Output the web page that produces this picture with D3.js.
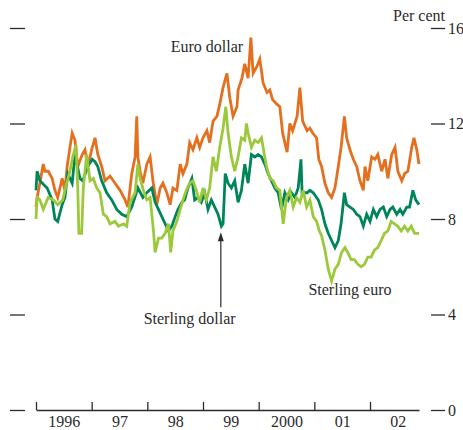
<!DOCTYPE html>
<html>
<head>
<meta charset="utf-8">
<script src="https://cdn.jsdelivr.net/npm/d3@7"></script>
<style>
  body { margin: 0; background: #fff; }
  svg { display: block; font-family: "Liberation Serif", "DejaVu Serif", serif; }
</style>
</head>
<body>
<svg id="vol_svg" width="463" height="430"></svg>
<script>

// time is in decimal years, values are per cent
var yearTicks = [1996, 1997, 1998, 1999, 2000, 2001, 2002];
var yearLabels = ["1996", "97", "98", "99", "2000", "01", "02"];
var valueTicks = [0, 4, 8, 12, 16];

var euroDollar = [
  [1996.00, 8.5], [1996.02, 8.9], [1996.07, 9.5], [1996.13, 10.3], [1996.16, 10.0], [1996.22, 10.0],
  [1996.29, 9.7], [1996.34, 9.2], [1996.39, 8.9], [1996.47, 9.7], [1996.52, 9.2], [1996.56, 10.2],
  [1996.61, 11.0], [1996.65, 11.6], [1996.70, 11.3], [1996.75, 10.2], [1996.83, 10.7], [1996.88, 10.9],
  [1996.93, 10.2], [1997.01, 11.0], [1997.06, 11.4], [1997.11, 10.7], [1997.18, 10.2], [1997.24, 9.6],
  [1997.33, 9.8], [1997.42, 9.5], [1997.51, 9.2], [1997.60, 8.8], [1997.65, 8.5], [1997.72, 9.9],
  [1997.78, 10.6], [1997.81, 12.3], [1997.83, 10.6], [1997.87, 10.0], [1997.92, 9.5], [1997.99, 10.3],
  [1998.05, 10.6], [1998.10, 9.6], [1998.17, 8.6], [1998.23, 9.3], [1998.28, 9.5], [1998.35, 9.1],
  [1998.41, 8.6], [1998.46, 9.3], [1998.53, 9.2], [1998.59, 10.3], [1998.64, 9.9], [1998.71, 10.3],
  [1998.76, 11.2], [1998.82, 10.9], [1998.89, 11.4], [1998.94, 11.0], [1999.00, 11.4], [1999.07, 11.7],
  [1999.12, 11.2], [1999.18, 12.1], [1999.25, 12.3], [1999.30, 12.8], [1999.36, 13.5], [1999.43, 14.1],
  [1999.48, 13.1], [1999.54, 12.3], [1999.61, 12.7], [1999.63, 13.4], [1999.70, 13.9], [1999.75, 14.5],
  [1999.81, 13.9], [1999.86, 15.6], [1999.90, 14.1], [1999.97, 14.4], [2000.02, 14.7], [2000.08, 13.7],
  [2000.15, 13.3], [2000.20, 13.4], [2000.25, 13.0], [2000.33, 12.8], [2000.38, 12.7], [2000.43, 11.6],
  [2000.51, 10.8], [2000.56, 12.0], [2000.61, 11.7], [2000.69, 12.3], [2000.74, 13.5], [2000.79, 12.1],
  [2000.87, 11.7], [2000.92, 11.8], [2000.97, 11.6], [2001.04, 11.4], [2001.08, 10.5], [2001.13, 10.2],
  [2001.19, 9.5], [2001.25, 9.1], [2001.31, 8.9], [2001.37, 9.3], [2001.43, 10.2], [2001.48, 11.0],
  [2001.54, 12.3], [2001.58, 11.4], [2001.64, 10.9], [2001.70, 10.5], [2001.76, 10.2], [2001.82, 9.6],
  [2001.88, 9.2], [2001.91, 10.2], [2001.96, 9.6], [2002.03, 10.6], [2002.09, 10.5], [2002.14, 10.7],
  [2002.21, 10.0], [2002.27, 10.5], [2002.32, 9.7], [2002.39, 10.7], [2002.45, 11.0], [2002.50, 10.0],
  [2002.57, 9.6], [2002.62, 9.9], [2002.68, 10.0], [2002.75, 11.0], [2002.79, 11.4], [2002.84, 10.9],
  [2002.88, 10.3]
];

var sterlingDollar = [
  [1996.00, 9.2], [1996.02, 10.0], [1996.07, 9.6], [1996.20, 9.3], [1996.29, 8.8], [1996.34, 8.0],
  [1996.39, 7.9], [1996.47, 8.6], [1996.52, 8.9], [1996.57, 9.9], [1996.65, 9.5], [1996.70, 10.7],
  [1996.79, 9.7], [1996.84, 9.6], [1996.93, 10.2], [1997.01, 10.5], [1997.06, 10.4], [1997.11, 10.2],
  [1997.18, 9.6], [1997.27, 9.1], [1997.36, 8.8], [1997.45, 8.4], [1997.54, 8.2], [1997.63, 8.1],
  [1997.72, 8.5], [1997.83, 9.3], [1997.92, 8.9], [1997.99, 9.1], [1998.08, 9.3], [1998.14, 8.7],
  [1998.20, 8.4], [1998.26, 8.1], [1998.32, 7.8], [1998.38, 7.5], [1998.44, 7.7], [1998.50, 8.1],
  [1998.55, 8.4], [1998.62, 8.7], [1998.67, 8.8], [1998.73, 9.3], [1998.80, 9.7], [1998.85, 8.8],
  [1998.91, 8.9], [1998.97, 8.7], [1999.03, 9.1], [1999.09, 8.4], [1999.15, 8.8], [1999.21, 8.5],
  [1999.27, 8.2], [1999.33, 7.7], [1999.36, 7.8], [1999.40, 9.9], [1999.45, 9.5], [1999.51, 9.3],
  [1999.57, 9.6], [1999.63, 8.7], [1999.69, 9.2], [1999.75, 10.3], [1999.81, 9.5], [1999.87, 10.7],
  [1999.93, 10.6], [1999.99, 10.7], [2000.05, 10.6], [2000.11, 10.3], [2000.17, 9.9], [2000.23, 9.6],
  [2000.29, 9.3], [2000.35, 9.1], [2000.41, 8.4], [2000.47, 9.1], [2000.53, 8.8], [2000.59, 9.1],
  [2000.65, 8.9], [2000.71, 9.3], [2000.76, 10.5], [2000.78, 9.1], [2000.87, 9.1], [2000.92, 9.2],
  [2000.98, 9.1], [2001.04, 8.9], [2001.07, 8.8], [2001.13, 8.4], [2001.19, 7.8], [2001.25, 7.4],
  [2001.31, 7.1], [2001.37, 6.8], [2001.43, 7.1], [2001.48, 7.8], [2001.54, 9.1], [2001.58, 8.6],
  [2001.64, 8.5], [2001.70, 8.4], [2001.76, 8.2], [2001.82, 8.1], [2001.88, 7.7], [2001.94, 8.2],
  [2002.00, 7.9], [2002.06, 8.4], [2002.12, 8.1], [2002.18, 8.4], [2002.24, 8.5], [2002.30, 8.1],
  [2002.36, 8.4], [2002.41, 8.5], [2002.48, 8.2], [2002.54, 8.4], [2002.59, 8.2], [2002.66, 8.5],
  [2002.71, 8.5], [2002.77, 9.2], [2002.82, 8.8], [2002.88, 8.6]
];

var sterlingEuro = [
  [1996.00, 8.0], [1996.02, 8.9], [1996.07, 8.8], [1996.13, 8.4], [1996.22, 8.9], [1996.31, 8.8],
  [1996.39, 8.6], [1996.48, 8.8], [1996.55, 9.5], [1996.61, 10.0], [1996.66, 10.6], [1996.72, 11.1],
  [1996.75, 9.3], [1996.77, 7.4], [1996.82, 7.4], [1996.85, 9.3], [1996.91, 10.7], [1996.97, 9.6],
  [1997.03, 9.7], [1997.09, 9.3], [1997.15, 9.1], [1997.21, 8.2], [1997.27, 8.1], [1997.33, 7.8],
  [1997.42, 7.9], [1997.48, 7.7], [1997.57, 7.8], [1997.63, 7.7], [1997.69, 8.7], [1997.78, 9.1],
  [1997.83, 10.3], [1997.87, 9.7], [1997.93, 9.2], [1997.99, 8.8], [1998.05, 8.9], [1998.11, 7.5],
  [1998.14, 6.6], [1998.20, 7.2], [1998.26, 7.2], [1998.32, 7.4], [1998.38, 7.8], [1998.42, 6.6],
  [1998.46, 7.5], [1998.53, 7.9], [1998.59, 8.4], [1998.64, 8.8], [1998.70, 9.2], [1998.76, 9.5],
  [1998.82, 9.6], [1998.88, 9.2], [1998.94, 8.7], [1999.00, 9.3], [1999.06, 8.8], [1999.12, 9.3],
  [1999.18, 10.6], [1999.24, 10.0], [1999.30, 11.0], [1999.36, 11.8], [1999.41, 12.7], [1999.45, 11.6],
  [1999.51, 10.6], [1999.57, 10.0], [1999.63, 10.6], [1999.69, 11.4], [1999.75, 11.3], [1999.78, 12.0],
  [1999.81, 11.6], [1999.87, 11.0], [1999.93, 11.3], [1999.99, 11.2], [2000.05, 11.4], [2000.08, 11.0],
  [2000.14, 10.2], [2000.20, 9.7], [2000.26, 9.6], [2000.32, 9.3], [2000.38, 9.2], [2000.44, 7.8],
  [2000.50, 8.9], [2000.56, 9.2], [2000.62, 8.5], [2000.68, 8.9], [2000.74, 8.7], [2000.80, 9.2],
  [2000.86, 8.5], [2000.92, 8.8], [2000.98, 8.1], [2001.04, 7.9], [2001.09, 7.5], [2001.13, 7.3],
  [2001.19, 6.7], [2001.25, 5.9], [2001.31, 5.4], [2001.37, 5.9], [2001.43, 6.1], [2001.49, 6.6],
  [2001.55, 6.8], [2001.60, 6.6], [2001.66, 6.3], [2001.72, 6.3], [2001.78, 6.1], [2001.84, 6.0],
  [2001.90, 6.1], [2001.96, 6.4], [2002.02, 6.4], [2002.08, 6.7], [2002.14, 6.8], [2002.20, 7.1],
  [2002.26, 7.4], [2002.32, 7.5], [2002.38, 7.9], [2002.44, 7.8], [2002.50, 7.7], [2002.56, 7.5],
  [2002.62, 7.7], [2002.68, 7.5], [2002.74, 7.7], [2002.80, 7.4], [2002.88, 7.4]
];

var svg = d3.select("#vol_svg");
var ink = "#2b2b2b";

var x = d3.scaleLinear().domain([1996, 2002.88]).range([36, 419]);
var y = d3.scaleLinear().domain([0, 16]).range([410, 28]);

// left side: bare dashes, no labels
var leftAxis = svg.append("g")
  .attr("transform", "translate(25,0)")
  .call(d3.axisLeft(y).tickValues(valueTicks).tickSize(15).tickFormat(""));

// right side: dashes with the numbers
var rightAxis = svg.append("g")
  .attr("transform", "translate(431,0)")
  .call(d3.axisRight(y).tickValues(valueTicks).tickSize(14).tickPadding(3));

// bottom: base line with year ticks pointing up, labels centred in each year
var bottomAxis = svg.append("g")
  .attr("transform", "translate(0," + y(0) + ")")
  .call(d3.axisBottom(x).tickValues(yearTicks).tickSize(-8).tickSizeOuter(0).tickFormat(""));

var yearAxis = svg.append("g")
  .attr("transform", "translate(0," + y(0) + ")")
  .call(d3.axisBottom(x)
    .tickValues(yearTicks.map(function(d){ return d + 0.5; }))
    .tickSize(0).tickPadding(6)
    .tickFormat(function(d, i){ return yearLabels[i]; }));
yearAxis.select(".domain").remove();

leftAxis.select(".domain").remove();
rightAxis.select(".domain").remove();

[leftAxis, rightAxis, bottomAxis, yearAxis].forEach(function(g){
  g.selectAll("line, path").attr("stroke", ink).attr("stroke-width", 1.3);
  g.selectAll("text")
    .attr("fill", ink)
    .style("font-family", "Liberation Serif, DejaVu Serif, serif")
    .style("font-size", "16px");
});

// the three series
var line = d3.line()
  .x(function(d){ return x(d[0]); })
  .y(function(d){ return y(d[1]); })
  .curve(d3.curveLinear);

var series = [
  { name: "Euro dollar", data: euroDollar, color: "#e4701f" },
  { name: "Sterling dollar", data: sterlingDollar, color: "#00845a" },
  { name: "Sterling euro", data: sterlingEuro, color: "#9cc93b" }
];

svg.append("g").selectAll("path").data(series).enter()
  .append("path")
  .attr("d", function(d){ return line(d.data); })
  .attr("fill", "none")
  .attr("stroke", function(d){ return d.color; })
  .attr("stroke-width", 2.8)
  .attr("stroke-linejoin", "miter");

// labels
function label(txt, xv, yv, anchor){
  svg.append("text")
    .attr("x", x(xv))
    .attr("y", y(yv))
    .attr("text-anchor", anchor)
    .attr("fill", ink)
    .style("font-size", "16px")
    .text(txt);
}

label("Euro dollar", 1998.42, 15.0, "start");
label("Sterling dollar", 1998.76, 3.6, "middle");
label("Sterling euro", 2001.64, 4.8, "middle");

svg.append("text")
  .attr("x", 445)
  .attr("y", 21)
  .attr("text-anchor", "end")
  .attr("fill", ink)
  .style("font-size", "16px")
  .text("Per cent");

// arrow to the sterling dollar dip
var arrowX = x(1999.32);
svg.append("line")
  .attr("x1", arrowX).attr("x2", arrowX)
  .attr("y1", y(4.3)).attr("y2", y(7.3))
  .attr("stroke", ink)
  .attr("stroke-width", 1.2);

svg.append("path")
  .attr("d", "M" + arrowX + "," + y(7.45) + " l-3,9 l6,0 z")
  .attr("fill", ink);

</script>
</body>
</html>
